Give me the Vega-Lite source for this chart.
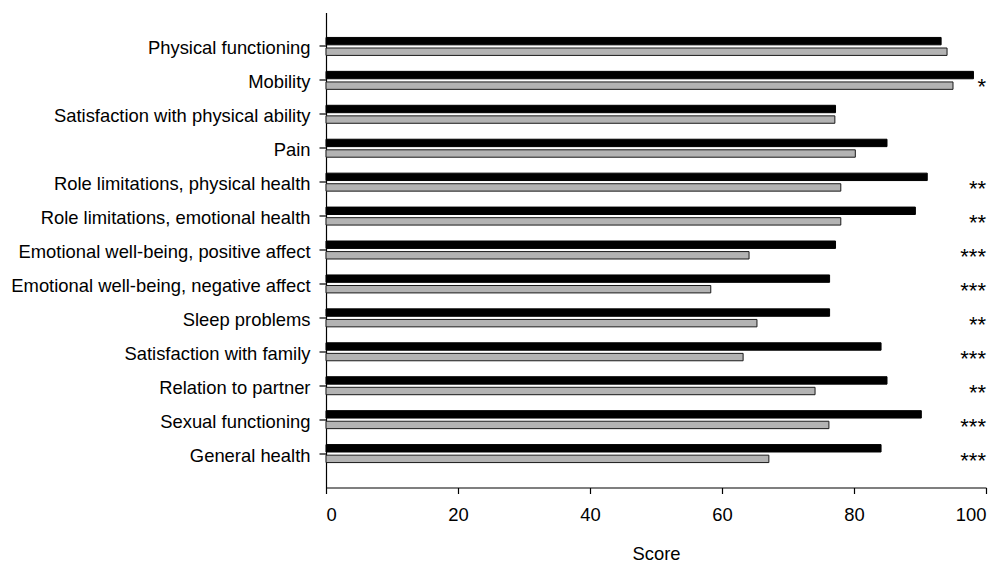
{
  "$schema": "https://vega.github.io/schema/vega-lite/v6.json",
  "width": 660,
  "height": 475,
  "autosize": "none",
  "padding": {"left": 326, "top": 12.5, "right": 19, "bottom": 77.5},
  "background": "white",
  "config": {
    "view": {"stroke": null},
    "font": "Liberation Sans",
    "axis": {"labelFont": "Liberation Sans", "titleFont": "Liberation Sans", "labelColor": "#000", "titleColor": "#000", "domainColor": "#000", "tickColor": "#000", "grid": false}
  },
  "datasets": {
    "bars": [
      {"item": "Physical functioning", "group": "A", "score": 93.2},
      {"item": "Physical functioning", "group": "B", "score": 94.1},
      {"item": "Mobility", "group": "A", "score": 98.1},
      {"item": "Mobility", "group": "B", "score": 95.0},
      {"item": "Satisfaction with physical ability", "group": "A", "score": 77.2},
      {"item": "Satisfaction with physical ability", "group": "B", "score": 77.1},
      {"item": "Pain", "group": "A", "score": 85.0},
      {"item": "Pain", "group": "B", "score": 80.2},
      {"item": "Role limitations, physical health", "group": "A", "score": 91.1},
      {"item": "Role limitations, physical health", "group": "B", "score": 78.0},
      {"item": "Role limitations, emotional health", "group": "A", "score": 89.3},
      {"item": "Role limitations, emotional health", "group": "B", "score": 78.0},
      {"item": "Emotional well-being, positive affect", "group": "A", "score": 77.2},
      {"item": "Emotional well-being, positive affect", "group": "B", "score": 64.1},
      {"item": "Emotional well-being, negative affect", "group": "A", "score": 76.3},
      {"item": "Emotional well-being, negative affect", "group": "B", "score": 58.3},
      {"item": "Sleep problems", "group": "A", "score": 76.3},
      {"item": "Sleep problems", "group": "B", "score": 65.3},
      {"item": "Satisfaction with family", "group": "A", "score": 84.1},
      {"item": "Satisfaction with family", "group": "B", "score": 63.2},
      {"item": "Relation to partner", "group": "A", "score": 85.0},
      {"item": "Relation to partner", "group": "B", "score": 74.1},
      {"item": "Sexual functioning", "group": "A", "score": 90.2},
      {"item": "Sexual functioning", "group": "B", "score": 76.2},
      {"item": "General health", "group": "A", "score": 84.1},
      {"item": "General health", "group": "B", "score": 67.1}
    ],
    "sig": [
      {"item": "Mobility", "stars": "*"},
      {"item": "Role limitations, physical health", "stars": "**"},
      {"item": "Role limitations, emotional health", "stars": "**"},
      {"item": "Emotional well-being, positive affect", "stars": "***"},
      {"item": "Emotional well-being, negative affect", "stars": "***"},
      {"item": "Sleep problems", "stars": "**"},
      {"item": "Satisfaction with family", "stars": "***"},
      {"item": "Relation to partner", "stars": "**"},
      {"item": "Sexual functioning", "stars": "***"},
      {"item": "General health", "stars": "***"}
    ]
  },
  "layer": [
    {
      "data": {"name": "bars"},
      "mark": {"type": "bar", "strokeWidth": 1},
      "encoding": {
        "y": {
          "field": "item", "type": "nominal", "sort": null,
          "scale": {"domain": ["Physical functioning", "Mobility", "Satisfaction with physical ability", "Pain", "Role limitations, physical health", "Role limitations, emotional health", "Emotional well-being, positive affect", "Emotional well-being, negative affect", "Sleep problems", "Satisfaction with family", "Relation to partner", "Sexual functioning", "General health"], "paddingInner": 0.47, "paddingOuter": 0.735},
          "axis": {"title": null, "labelFontSize": 18.4, "labelLimit": 400, "tickSize": 7, "labelPadding": 9, "labelOffset": 2, "domainWidth": 1.2, "tickWidth": 1.2}
        },
        "yOffset": {"field": "group", "type": "nominal", "scale": {"domain": ["A", "B"], "paddingInner": 0.3, "paddingOuter": 0}},
        "x": {
          "field": "score", "type": "quantitative",
          "scale": {"domain": [0, 100], "nice": false, "zero": true},
          "axis": {"title": "Score", "values": [0, 20, 40, 60, 80, 100], "labelFontSize": 18.4, "titleFontSize": 18.4, "titleFontWeight": "normal", "tickSize": 6, "labelPadding": 12, "titlePadding": 21, "domainWidth": 1.2, "tickWidth": 1.2}
        },
        "fill": {"field": "group", "type": "nominal", "scale": {"domain": ["A", "B"], "range": ["#000000", "#b3b3b3"]}, "legend": null},
        "stroke": {"field": "group", "type": "nominal", "scale": {"domain": ["A", "B"], "range": ["#000000", "#1a1a1a"]}, "legend": null}
      }
    },
    {
      "data": {"name": "sig"},
      "mark": {"type": "text", "align": "right", "baseline": "alphabetic", "dy": 14, "fontSize": 22, "color": "#000", "font": "Liberation Sans"},
      "encoding": {
        "y": {"field": "item", "type": "nominal", "sort": null},
        "x": {"datum": 100, "type": "quantitative"},
        "text": {"field": "stars"}
      }
    }
  ]
}
